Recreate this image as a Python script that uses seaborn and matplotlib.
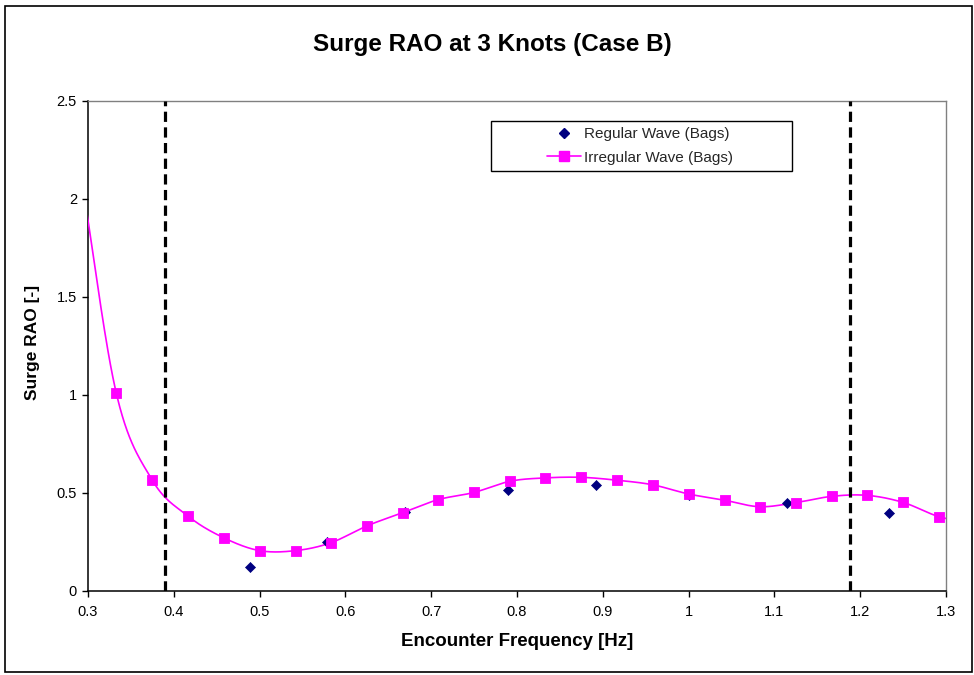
import numpy as np
import pandas as pd
import matplotlib
matplotlib.use("Agg")
import matplotlib.pyplot as plt
from matplotlib.lines import Line2D
from matplotlib.patches import Rectangle
import seaborn as sns

# Regular-wave surge RAO measurements
reg_freq = [0.489, 0.578, 0.670, 0.789, 0.892, 1.000, 1.115, 1.234]
reg_rao = [0.120, 0.252, 0.405, 0.517, 0.541, 0.490, 0.447, 0.400]

# Irregular-wave surge RAO (first and last points lie just outside the axis range)
irr_freq = [0.292, 0.333, 0.375, 0.417, 0.458, 0.500, 0.542, 0.583, 0.625, 0.667,
            0.708, 0.750, 0.792, 0.833, 0.875, 0.917, 0.958, 1.000, 1.042,
            1.083, 1.125, 1.167, 1.208, 1.250, 1.292, 1.333]
irr_rao = [2.120, 1.009, 0.565, 0.381, 0.272, 0.206, 0.206, 0.246, 0.332, 0.400,
           0.466, 0.503, 0.560, 0.577, 0.580, 0.565, 0.542, 0.495, 0.463,
           0.430, 0.451, 0.483, 0.488, 0.452, 0.379, 0.345]

# Frequency band limits
band_limits = [0.390, 1.188]

x_ticks = [0.3, 0.4, 0.5, 0.6, 0.7, 0.8, 0.9, 1.0, 1.1, 1.2, 1.3]
y_ticks = [0, 0.5, 1, 1.5, 2, 2.5]

title = "Surge RAO at 3 Knots (Case B)"
x_label = "Encounter Frequency [Hz]"
y_label = "Surge RAO [-]"
reg_name = "Regular Wave (Bags)"
irr_name = "Irregular Wave (Bags)"


def smooth_curve(xs, ys, steps=30):
    """Catmull-Rom spline through the points (smoothed line)."""
    xs = np.asarray(xs, float)
    ys = np.asarray(ys, float)

    def spline(p):
        q = np.concatenate([[2 * p[0] - p[1]], p, [2 * p[-1] - p[-2]]])
        p0, p1, p2, p3 = q[:-3], q[1:-2], q[2:-1], q[3:]
        m1 = (p2 - p0) / 2
        m2 = (p3 - p1) / 2
        t = np.linspace(0, 1, steps, endpoint=False)[:, None]
        h00 = 2 * t**3 - 3 * t**2 + 1
        h10 = t**3 - 2 * t**2 + t
        h01 = -2 * t**3 + 3 * t**2
        h11 = t**3 - t**2
        out = (h00 * p1 + h10 * m1 + h01 * p2 + h11 * m2).T.ravel()
        return np.append(out, p[-1])

    return spline(xs), spline(ys)


sns.set_theme(style="white")
plt.rcParams["font.family"] = ["Liberation Sans", "DejaVu Sans"]

W, H = 974, 675
fig = plt.figure(figsize=(W / 100, H / 100), dpi=100)
left, right, top, bottom = 88, 946, 101, 591
ax = fig.add_axes([left / W, 1 - bottom / H, (right - left) / W, (bottom - top) / H])

MAGENTA = "#FF00FF"
NAVY = "#000080"

sx, sy = smooth_curve(irr_freq, irr_rao)
curve = pd.DataFrame({"freq": sx, "rao": sy})
sns.lineplot(data=curve, x="freq", y="rao", sort=False, estimator=None,
             color=MAGENTA, linewidth=1.2, ax=ax, zorder=3)

irr = pd.DataFrame({"freq": irr_freq, "rao": irr_rao})
sns.scatterplot(data=irr, x="freq", y="rao", marker="s", s=58, color=MAGENTA,
                edgecolor=MAGENTA, linewidth=0.6, ax=ax, zorder=5)

reg = pd.DataFrame({"freq": reg_freq, "rao": reg_rao})
sns.scatterplot(data=reg, x="freq", y="rao", marker="D", s=26, color=NAVY,
                edgecolor=NAVY, linewidth=0.5, ax=ax, zorder=4)

for xv in band_limits:
    ax.axvline(xv, color="black", linewidth=2.3, linestyle=(0, (3.2, 1.7)), zorder=6)

ax.set_xlim(0.3, 1.3)
ax.set_ylim(0, 2.5)
ax.set_xticks(x_ticks)
ax.set_xticklabels([f"{v:g}" for v in x_ticks])
ax.set_yticks(y_ticks)
ax.set_yticklabels([f"{v:g}" for v in y_ticks])
ax.tick_params(axis="both", direction="out", length=4, width=1, color="black",
               labelsize=10.5, labelcolor="black", bottom=True, left=True)
ax.tick_params(axis="x", pad=6)
ax.tick_params(axis="y", pad=4)

for side in ("left", "bottom"):
    ax.spines[side].set_color("black")
    ax.spines[side].set_linewidth(1.1)
for side in ("top", "right"):
    ax.spines[side].set_color("#808080")
    ax.spines[side].set_linewidth(1.0)
ax.grid(False)

ax.set_xlabel(x_label, fontsize=13.5, fontweight="bold", color="black")
ax.set_ylabel(y_label, fontsize=12.5, fontweight="bold", color="black")
ax.xaxis.set_label_coords((517 - left) / (right - left), (bottom - 641) / (bottom - top))
ax.xaxis.label.set_va("center")
ax.yaxis.set_label_coords((33 - left) / (right - left), (bottom - 342) / (bottom - top))
ax.yaxis.label.set_va("center")

fig.text(492 / W, 1 - 45 / H, title, fontsize=17.5, fontweight="bold",
         ha="center", va="center", color="black")

# Legend frame and entries
aw, ah = right - left, bottom - top
frame = Rectangle(((491 - left) / aw, (bottom - 171) / ah), (792 - 491) / aw, 50 / ah,
                  transform=ax.transAxes, facecolor="white", edgecolor="black",
                  linewidth=1.0, zorder=7)
ax.add_patch(frame)
handles = [
    Line2D([], [], linestyle="none", marker="D", markersize=5.5, color=NAVY),
    Line2D([], [], color=MAGENTA, linewidth=1.2, marker="s", markersize=7.6),
]
leg = ax.legend(handles, [reg_name, irr_name], loc="center left",
                bbox_to_anchor=((547 - left) / aw, (bottom - 146) / ah),
                frameon=False, fontsize=11, handlelength=2.2, handletextpad=0.25,
                labelspacing=0.6, borderpad=0, borderaxespad=0)
leg.set_zorder(8)

# Chart outline
fig.patches.append(Rectangle((5 / W, 1 - 672 / H), 967 / W, 666 / H,
                             transform=fig.transFigure, fill=False,
                             edgecolor="black", linewidth=1.2))

fig.savefig("out.png", dpi=100, facecolor="white")
